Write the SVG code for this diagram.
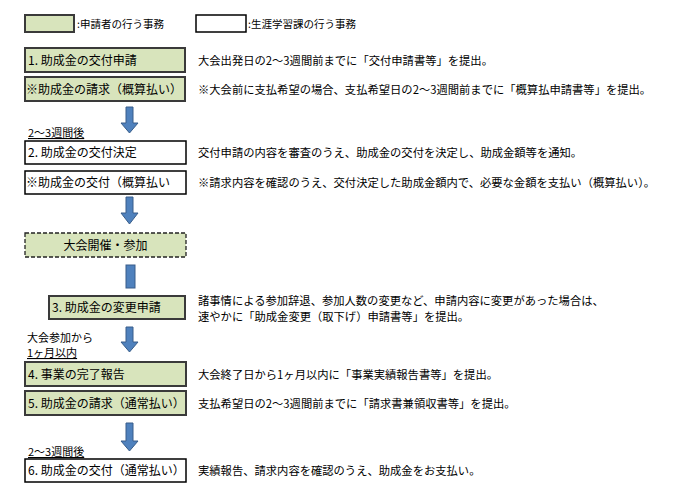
<svg xmlns="http://www.w3.org/2000/svg" width="690" height="495" viewBox="0 0 690 495">
<style>
text{font-family:"Noto Sans CJK JP","Liberation Sans",sans-serif;fill:#000}
.g{fill:#d8e4bc;stroke:#3a3a3a;stroke-width:2}
.w{fill:#fff;stroke:#000;stroke-width:1.5}
.d{fill:#d8e4bc;stroke:#222;stroke-width:1.3;stroke-dasharray:4 2}
.bt{font-size:12px}
.ds{font-size:11.3px}
.lg{font-size:10.5px}
.sm{font-size:11px}
.u{text-decoration:underline}
.ar{fill:#4f81bd;stroke:#385d8a;stroke-width:1}
</style>
<g id="legend">
<rect class="g" x="25" y="15" width="49" height="17"/>
<text class="lg" x="77" y="28">:申請者の行う事務</text>
<rect class="w" x="196" y="15" width="50" height="17"/>
<text class="lg" x="248" y="28">:生涯学習課の行う事務</text>
</g>
<g id="connectors">
<path class="ar" d="M126,107 H133 V123 H138 L129.5,133 L121,123 H126 Z"/>
<path class="ar" d="M126,197 H133 V213 H138 L129.5,224 L121,213 H126 Z"/>
<rect class="ar" x="126" y="265" width="9" height="23"/>
<path class="ar" d="M126,327 H133 V342 H138 L129.5,352 L121,342 H126 Z"/>
<path class="ar" d="M126,423 H133 V441 H138 L129.5,451 L121,441 H126 Z"/>
</g>
<g id="n1">
<rect class="g" x="25" y="48" width="160" height="24"/>
<text class="bt" x="28" y="65">1. 助成金の交付申請</text>
<text class="ds" x="198" y="65">大会出発日の2〜3週間前までに「交付申請書等」を提出。</text>
</g>
<g id="n1b">
<rect class="g" x="25" y="77" width="160" height="24"/>
<text class="bt" x="26" y="94">※助成金の請求（概算払い）</text>
<text class="ds" x="198" y="94">※大会前に支払希望の場合、支払希望日の2〜3週間前までに「概算払申請書等」を提出。</text>
</g>
<text class="sm u" x="28" y="137">2〜3週間後</text>
<g id="n2">
<rect class="w" x="25" y="141" width="161" height="23"/>
<text class="bt" x="28" y="157">2. 助成金の交付決定</text>
<text class="ds" x="198" y="157">交付申請の内容を審査のうえ、助成金の交付を決定し、助成金額等を通知。</text>
</g>
<g id="n2b">
<rect class="w" x="25" y="171" width="161" height="23"/>
<text class="bt" x="26" y="187">※助成金の交付（概算払い</text>
<text class="ds" x="198" y="187">※請求内容を確認のうえ、交付決定した助成金額内で、必要な金額を支払い（概算払い）。</text>
</g>
<g id="event">
<rect class="d" x="25" y="233" width="161" height="24"/>
<text class="bt" x="105.5" y="249.5" text-anchor="middle">大会開催・参加</text>
</g>
<g id="n3">
<rect class="g" x="49" y="296" width="136" height="23"/>
<text class="bt" x="52" y="312">3. 助成金の変更申請</text>
<text class="ds" x="198" y="305">諸事情による参加辞退、参加人数の変更など、申請内容に変更があった場合は、</text>
<text class="ds" x="198" y="321">速やかに「助成金変更（取下げ）申請書等」を提出。</text>
</g>
<text class="sm" x="27" y="342">大会参加から</text>
<text class="sm u" x="27" y="357">1ヶ月以内</text>
<g id="n4">
<rect class="g" x="25" y="362" width="161" height="24"/>
<text class="bt" x="28" y="379">4. 事業の完了報告</text>
<text class="ds" x="198" y="379">大会終了日から1ヶ月以内に「事業実績報告書等」を提出。</text>
</g>
<g id="n5">
<rect class="g" x="25" y="391" width="161" height="24"/>
<text class="bt" x="28" y="408">5. 助成金の請求（通常払い）</text>
<text class="ds" x="198" y="408">支払希望日の2〜3週間前までに「請求書兼領収書等」を提出。</text>
</g>
<text class="sm u" x="28" y="456">2〜3週間後</text>
<g id="n6">
<rect class="w" x="25" y="459" width="161" height="23"/>
<text class="bt" x="28" y="475">6. 助成金の交付（通常払い）</text>
<text class="ds" x="198" y="475">実績報告、請求内容を確認のうえ、助成金をお支払い。</text>
</g>
</svg>
